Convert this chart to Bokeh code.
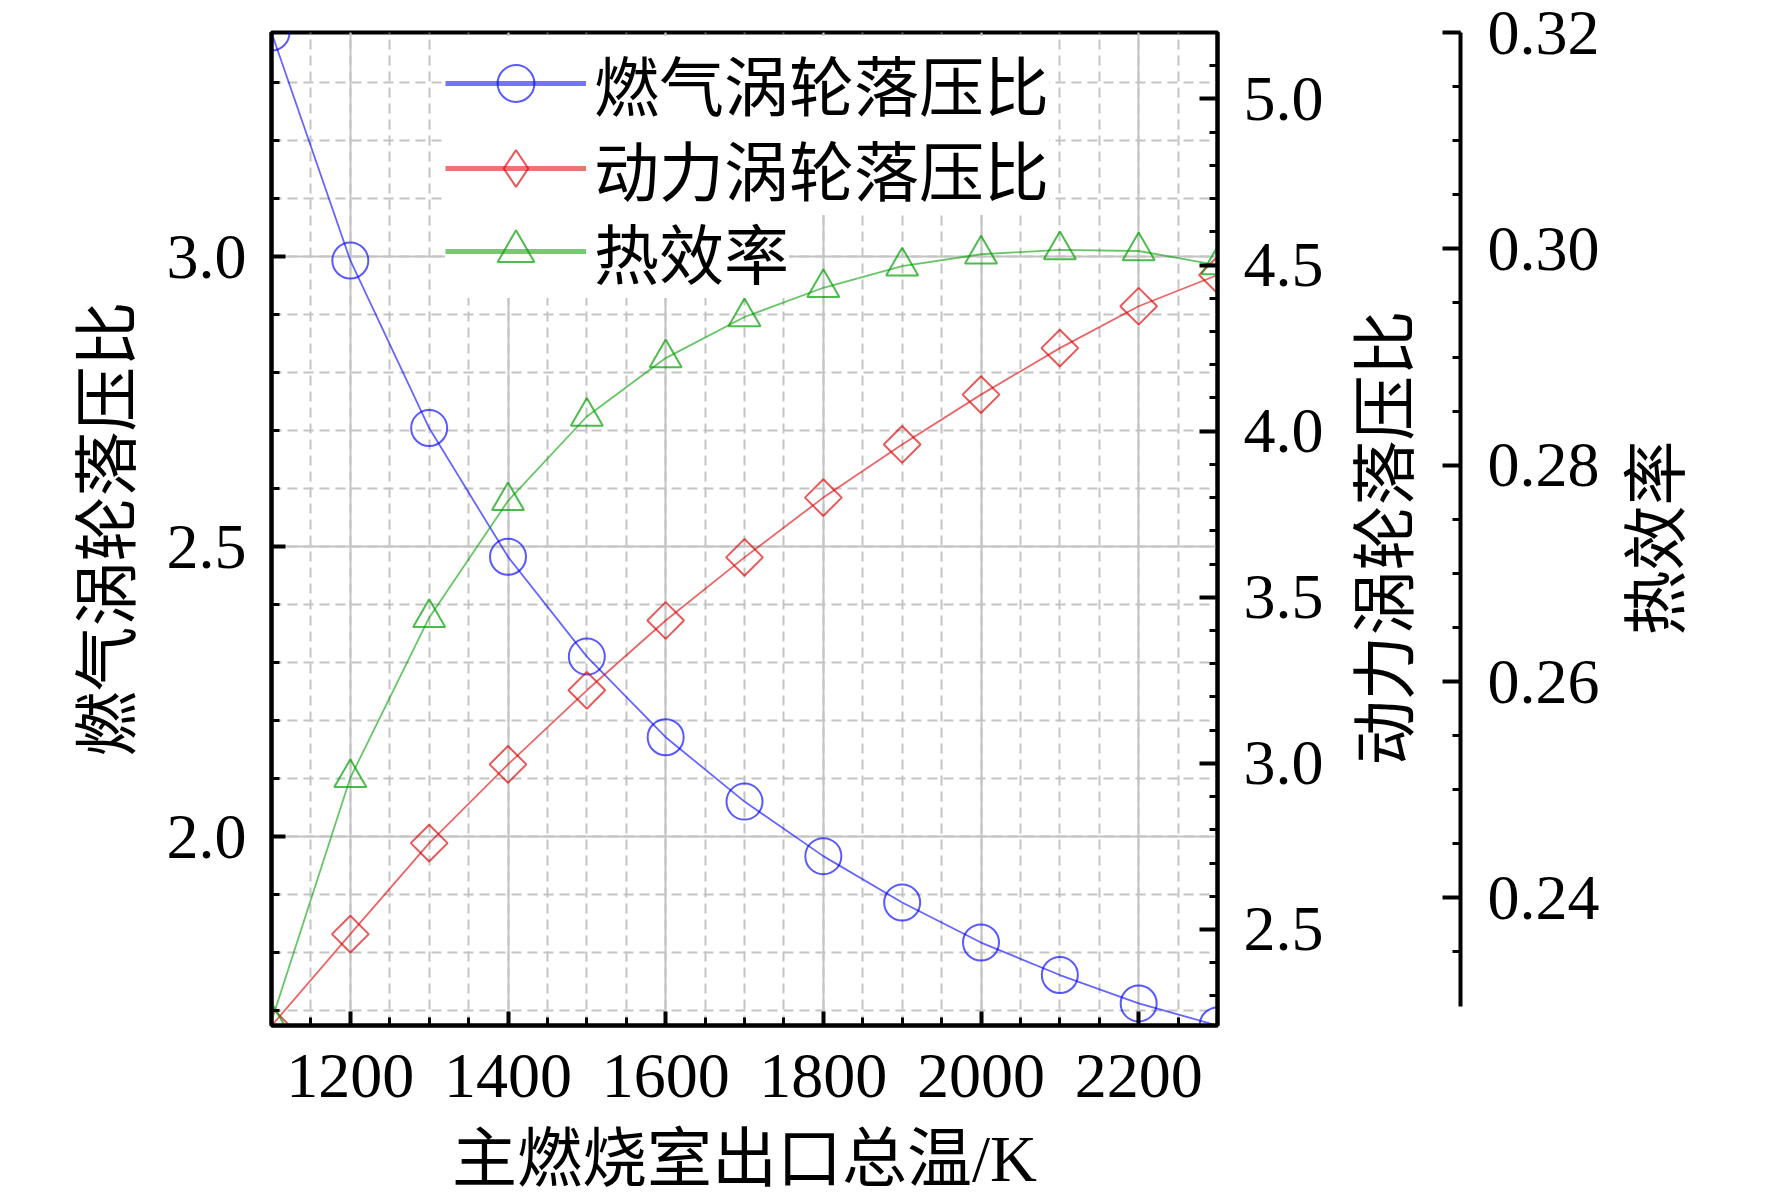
from bokeh.plotting import figure
from bokeh.models import (ColumnDataSource, LinearAxis, Range1d, SingleIntervalTicker,
                          Legend, LegendItem, NumeralTickFormatter)
from bokeh.embed import file_html
from bokeh.resources import INLINE
import math

# data
temps = [1100, 1200, 1300, 1400, 1500, 1600, 1700, 1800, 1900, 2000, 2100, 2200, 2300]
gt_ratio = [3.387, 2.994, 2.705, 2.483, 2.311, 2.172, 2.061, 1.967, 1.887, 1.818, 1.762, 1.713, 1.675]
pt_ratio = [2.21, 2.486, 2.76, 2.997, 3.22, 3.43, 3.62, 3.80, 3.96, 4.11, 4.25, 4.376, 4.47]
efficiency = [0.2286, 0.2511, 0.2659, 0.2767, 0.2845, 0.2899, 0.2937, 0.2964, 0.2984, 0.2995, 0.2999, 0.2998, 0.2985]

label_gt = "燃气涡轮落压比"
label_pt = "动力涡轮落压比"
label_eff = "热效率"
x_title = "主燃烧室出口总温/K"

FONT = "'Liberation Serif', 'Noto Sans CJK SC'"
BLUE = "#0000ff"
RED = "#dc0000"
GREEN = "#00a000"

source = ColumnDataSource(dict(x=temps, gt=gt_ratio, pt=pt_ratio, eff=efficiency))

p = figure(frame_width=946, frame_height=993,
           x_range=Range1d(1100, 2300), y_range=Range1d(1.675, 3.387),
           output_backend="svg", toolbar_location=None,
           min_border_left=271, min_border_top=32, min_border_right=60, min_border_bottom=0)
p.extra_y_ranges = {"pt": Range1d(2.211, 5.2), "eff": Range1d(0.2282, 0.32),
                    "legend_only": Range1d(-10, -9)}
p.outline_line_color = "black"
p.outline_line_width = 4
p.background_fill_color = "white"
p.border_fill_color = "white"


def style_axis(ax, tick_in):
    ax.axis_line_width = 4
    ax.axis_line_color = "black"
    ax.major_tick_in = tick_in
    ax.major_tick_out = 0
    ax.minor_tick_in = 8
    ax.minor_tick_out = 0
    ax.major_tick_line_width = 4
    ax.minor_tick_line_width = 3
    ax.major_label_text_font = FONT
    ax.major_label_text_font_size = "64px"
    ax.major_label_text_color = "black"
    ax.axis_label_text_font = FONT
    ax.axis_label_text_font_size = "65px"
    ax.axis_label_text_font_style = "normal"
    ax.axis_label_text_color = "black"


# bottom axis
xt = SingleIntervalTicker(interval=200, num_minor_ticks=4)
p.xaxis.ticker = xt
p.xgrid.ticker = xt
style_axis(p.xaxis[0], 14)
p.xaxis.axis_label = x_title
p.xaxis.major_label_standoff = 29
p.xaxis.axis_label_standoff = 23

# left axis
yt = SingleIntervalTicker(interval=0.5, num_minor_ticks=5)
p.yaxis.ticker = yt
p.ygrid.ticker = yt
p.yaxis.formatter = NumeralTickFormatter(format="0.0")
style_axis(p.yaxis[0], 14)
p.yaxis.axis_label = label_gt
p.yaxis.major_label_standoff = 25
p.yaxis.axis_label_standoff = 20

# grid: solid at majors, dashed at minors
for g in (p.xgrid[0], p.ygrid[0]):
    g.grid_line_color = "#c4c4c4"
    g.grid_line_width = 2
    g.minor_grid_line_color = "#c4c4c4"
    g.minor_grid_line_width = 2
    g.minor_grid_line_dash = "10 6"

# right axis (power turbine)
ax_pt = LinearAxis(y_range_name="pt", ticker=SingleIntervalTicker(interval=0.5, num_minor_ticks=5),
                   formatter=NumeralTickFormatter(format="0.0"))
style_axis(ax_pt, 18)
ax_pt.major_label_standoff = 26
ax_pt.axis_label_standoff = 59
p.add_layout(ax_pt, "right")

# third axis (efficiency)
ax_eff = LinearAxis(y_range_name="eff", ticker=SingleIntervalTicker(interval=0.02, num_minor_ticks=4),
                    formatter=NumeralTickFormatter(format="0.00"), bounds=(0.23, 0.32))
style_axis(ax_eff, 18)
ax_eff.major_label_standoff = 27
ax_eff.axis_label_standoff = 54
p.add_layout(ax_eff, "right")

# right-hand titles read bottom to top, like the left one: the rotated text starts
# at the bottom end of the axis, ideographic spaces lift it to the middle
if hasattr(ax_pt, "axis_label_align"):
    for ax, text, pad in ((ax_pt, label_pt, 4), (ax_eff, label_eff, 6)):
        ax.axis_label = "\u3000" * pad + text
        ax.axis_label_orientation = math.pi / 2
        ax.axis_label_align = "start"
else:
    ax_pt.axis_label = label_pt
    ax_eff.axis_label = label_eff

# series
l1 = p.line("x", "gt", source=source, color=BLUE, line_alpha=0.6, line_width=1.8)
s1 = p.scatter("x", "gt", source=source, marker="circle", size=36, fill_color=None,
               line_color=BLUE, line_alpha=0.65, line_width=2)
l2 = p.line("x", "pt", source=source, color=RED, line_alpha=0.6, line_width=1.8, y_range_name="pt")
s2 = p.scatter("x", "pt", source=source, marker="square", angle=math.pi / 4, size=26,
               fill_color=None, line_color=RED, line_alpha=0.65, line_width=2, y_range_name="pt")
l3 = p.line("x", "eff", source=source, color=GREEN, line_alpha=0.6, line_width=1.8, y_range_name="eff")
s3 = p.scatter("x", "eff", source=source, marker="triangle", size=32, fill_color=None,
               line_color=GREEN, line_alpha=0.7, line_width=2, y_range_name="eff")

# legend samples (thicker line, diamond): same data on a range that lies outside the frame
k1 = p.line("x", "gt", source=source, color=BLUE, line_alpha=0.55, line_width=5, y_range_name="legend_only")
k2 = p.line("x", "pt", source=source, color=RED, line_alpha=0.55, line_width=5, y_range_name="legend_only")
k3 = p.line("x", "eff", source=source, color=GREEN, line_alpha=0.55, line_width=5, y_range_name="legend_only")
m2 = p.scatter("x", "pt", source=source, marker="diamond", size=34, fill_color=None,
               line_color=RED, line_alpha=0.65, line_width=2, y_range_name="legend_only")

# one legend per row so the rows can sit closer than the font's line height
for text, rends, bottom in ((label_gt, [k1, s1], 895), (label_pt, [k2, m2], 810),
                            (label_eff, [k3, s3], 727)):
    lg = Legend(items=[LegendItem(label=text, renderers=rends)], location=(174, bottom))
    lg.margin = 0
    lg.padding = 0
    lg.glyph_width = 141
    lg.glyph_height = 92
    lg.label_standoff = 8
    lg.label_text_font = FONT
    lg.label_text_font_size = "65px"
    lg.label_text_color = "black"
    lg.border_line_color = None
    lg.background_fill_color = "white"
    lg.background_fill_alpha = 1
    p.add_layout(lg)

open("out.html", "w").write(file_html(p, INLINE))
